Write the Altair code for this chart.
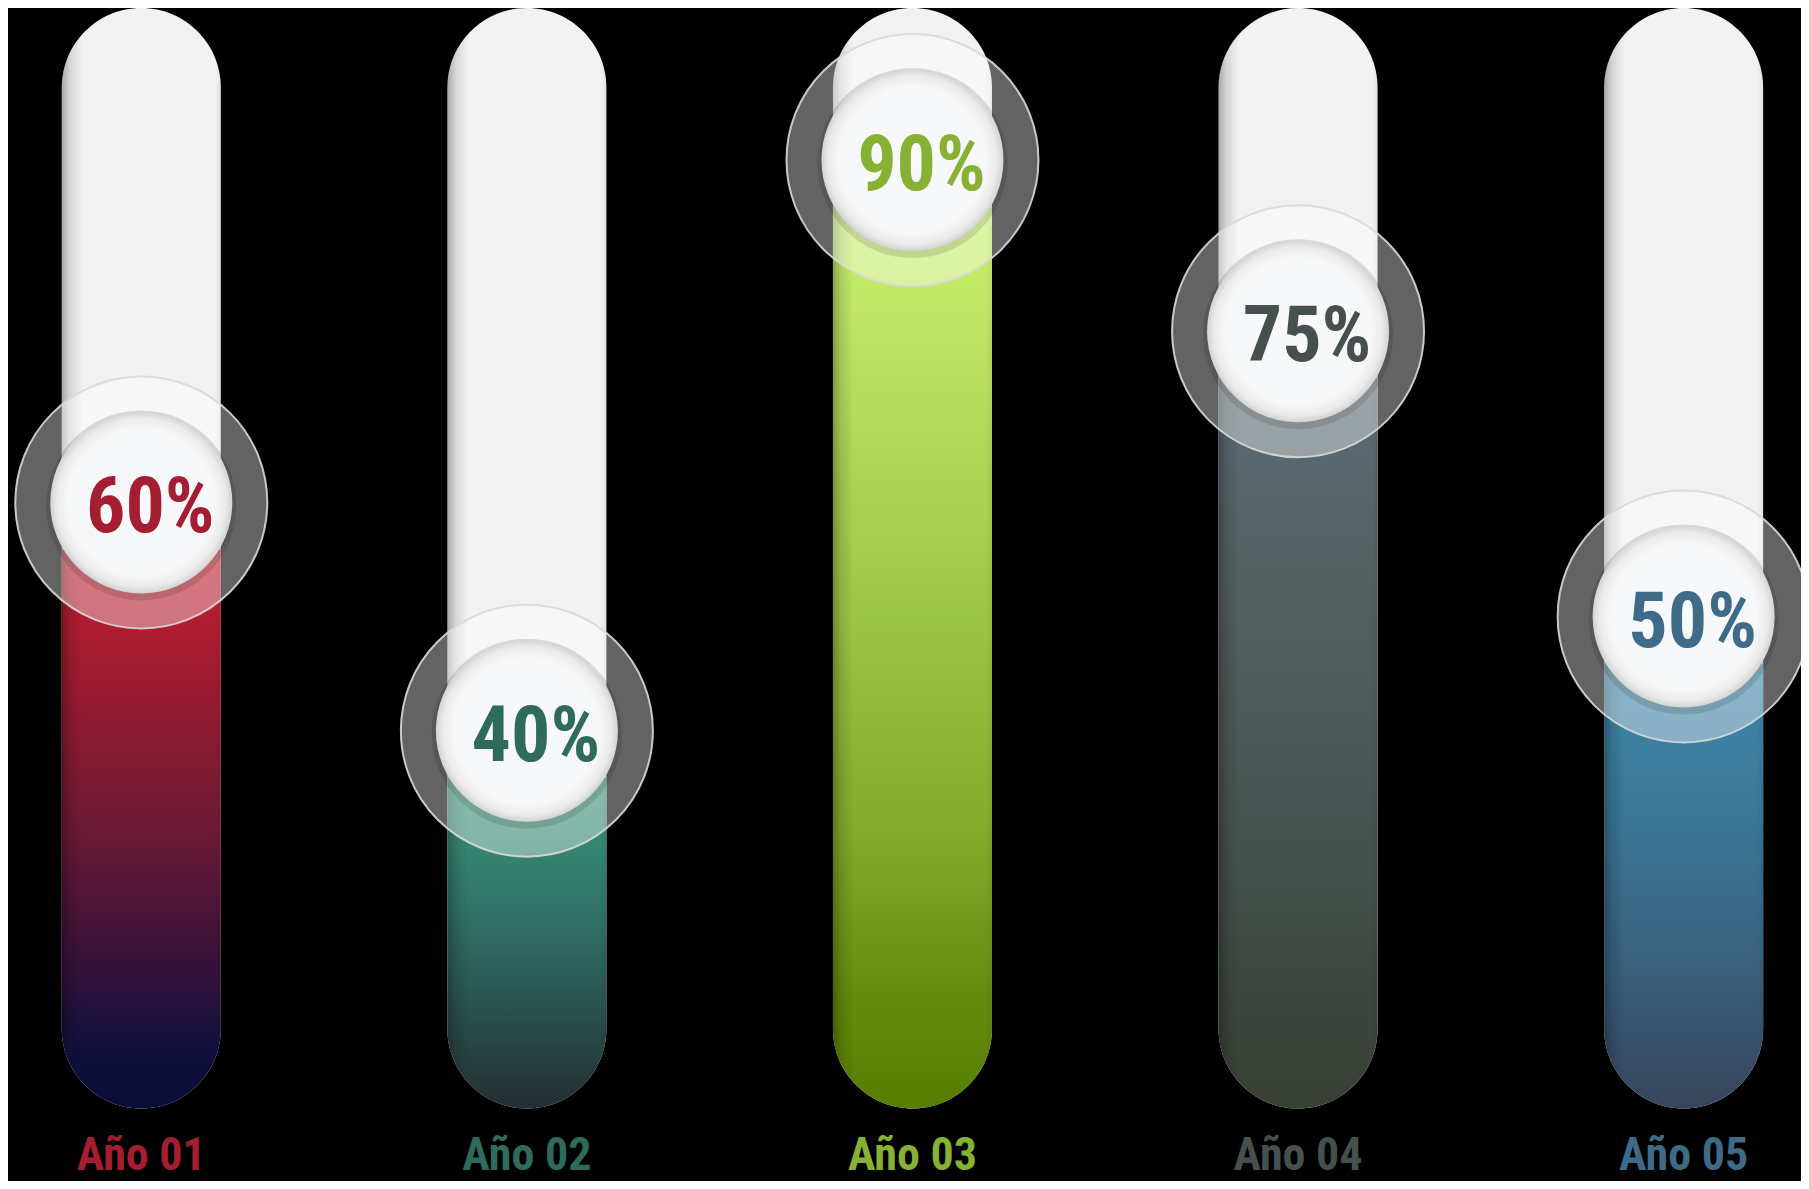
import altair as alt
import pandas as pd

# ---- data ----
years = ["Año 01", "Año 02", "Año 03", "Año 04", "Año 05"]
values = [60, 40, 90, 75, 50]
value_labels = ["60%", "40%", "90%", "75%", "50%"]

# ---- styles ----
text_colors = ["#a51d30", "#2f6b5b", "#87b132", "#46504e", "#3e6b87"]
fill_stops = [
    [("#c41f2d", 0.0), ("#a01c31", 0.22), ("#701a35", 0.48), ("#3b1239", 0.72), ("#10103e", 0.9), ("#0b0b38", 1.0)],
    [("#3a977a", 0.0), ("#31786a", 0.35), ("#2b5752", 0.65), ("#27403f", 0.85), ("#242e33", 1.0)],
    [("#cbf26e", 0.0), ("#b6de5c", 0.2), ("#9cc744", 0.45), ("#80aa28", 0.7), ("#638c0c", 0.88), ("#567d00", 1.0)],
    [("#5b6b74", 0.0), ("#52605f", 0.3), ("#485451", 0.6), ("#3e4840", 0.82), ("#383f35", 1.0)],
    [("#3f88aa", 0.0), ("#3b7696", 0.35), ("#396280", 0.65), ("#384f68", 0.88), ("#37465a", 1.0)],
]
FONT = "Roboto Condensed, Liberation Sans Narrow, Roboto, Liberation Sans, sans-serif"

W, H = 1793, 1173
x_dom = [-0.3327, 4.2914]
y_dom = [4.65, 107.45]
track_base = 11.0
BAR_W = 159

df = pd.DataFrame({
    "pos": list(range(len(years))),
    "year": years,
    "value": values,
    "label": value_labels,
    "tcolor": text_colors,
})
df["base"] = track_base
df["top"] = y_dom[1]
df["floor"] = y_dom[0]

xs = alt.Scale(domain=x_dom, nice=False, zero=False)
ys = alt.Scale(domain=y_dom, nice=False, zero=False)
X = alt.X("pos:Q", scale=xs, axis=None)


def Y(field):
    return alt.Y(f"{field}:Q", scale=ys, axis=None)


base = alt.Chart(df)

track = base.mark_bar(size=BAR_W, cornerRadius=BAR_W / 2, fill="#f2f2f2").encode(
    x=X, y=Y("top"), y2="base:Q"
)

fills = []
for i, stops in enumerate(fill_stops):
    grad = alt.LinearGradient(
        gradient="linear",
        stops=[alt.GradientStop(color=c, offset=o) for c, o in stops],
        x1=0, x2=0, y1=0, y2=1,
    )
    fills.append(
        base.transform_filter(alt.datum.pos == i)
        .mark_bar(size=BAR_W, cornerRadiusBottomLeft=BAR_W / 2,
                  cornerRadiusBottomRight=BAR_W / 2, fill=grad)
        .encode(x=X, y=Y("value"), y2="base:Q")
    )

shade = base.mark_bar(
    size=BAR_W, cornerRadius=BAR_W / 2,
    fill=alt.LinearGradient(
        gradient="linear",
        stops=[
            alt.GradientStop(color="rgba(0,0,0,0.30)", offset=0.0),
            alt.GradientStop(color="rgba(0,0,0,0.12)", offset=0.05),
            alt.GradientStop(color="rgba(0,0,0,0)", offset=0.13),
            alt.GradientStop(color="rgba(0,0,0,0)", offset=0.96),
            alt.GradientStop(color="rgba(0,0,0,0.06)", offset=1.0),
        ],
        x1=0, x2=1, y1=0, y2=0,
    ),
).encode(x=X, y=Y("top"), y2="base:Q")

ring = base.mark_point(
    shape="circle", filled=True, size=252 ** 2, fill="#ffffff", fillOpacity=0.39,
    stroke="#d9d9d9", strokeWidth=2, strokeOpacity=0.9, yOffset=-47, opacity=1,
).encode(x=X, y=Y("value"))

shadow = base.mark_point(
    shape="circle", filled=True, size=190 ** 2, fill="#000000", fillOpacity=0.12,
    strokeWidth=0, yOffset=-44, opacity=1,
).encode(x=X, y=Y("value"))

inner = base.mark_point(
    shape="circle", filled=True, size=182 ** 2,
    fill=alt.RadialGradient(
        gradient="radial",
        stops=[
            alt.GradientStop(color="#f8f9fa", offset=0.0),
            alt.GradientStop(color="#f6f7f8", offset=0.8),
            alt.GradientStop(color="#ececec", offset=0.92),
            alt.GradientStop(color="#d3d3d3", offset=1.0),
        ],
        x1=0.5, y1=0.5, r1=0, x2=0.5, y2=0.5, r2=0.5,
    ),
    strokeWidth=0, yOffset=-47, opacity=1,
).encode(x=X, y=Y("value"))

pct = base.mark_text(
    font=FONT, fontSize=78, fontWeight="bold", baseline="middle", align="center",
    dx=9, dy=-40,
).encode(x=X, y=Y("value"), text="label:N", color=alt.Color("tcolor:N", scale=None))

year_lbl = base.mark_text(
    font=FONT, fontSize=46, fontWeight="bold", baseline="alphabetic", align="center",
    dy=-11,
).encode(x=X, y=Y("floor"), text="year:N", color=alt.Color("tcolor:N", scale=None))

chart = alt.layer(track, *fills, shade, ring, shadow, inner, pct, year_lbl).properties(
    width=W, height=H, background="#000000", padding=0,
    autosize=alt.AutoSizeParams(type="none"),
).configure_view(stroke=None)

chart.save("out.html", embed_options={"renderer": "svg", "actions": False})
